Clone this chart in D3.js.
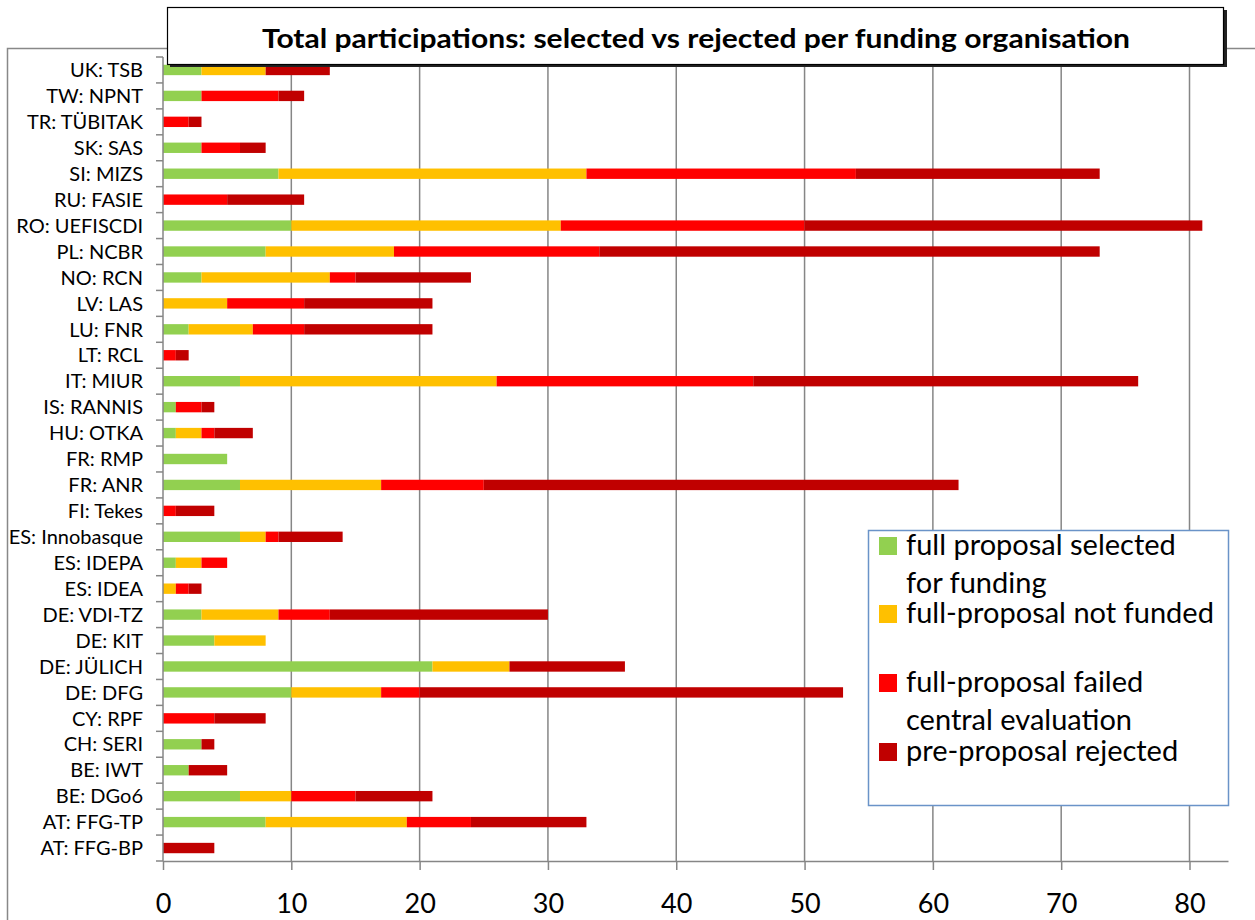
<!DOCTYPE html>
<html>
<head>
<meta charset="utf-8">
<script src="https://cdn.jsdelivr.net/npm/d3@7"></script>
<style>
  body { margin: 0; background: #fff; }
  svg text { font-family: Lato, "Open Sans", sans-serif; }
</style>
</head>
<body>
<div id="chart"></div>
<script>
// categories, top to bottom as shown
var orgs = ["UK: TSB", "TW: NPNT", "TR: TÜBITAK", "SK: SAS", "SI: MIZS", "RU: FASIE", "RO: UEFISCDI",
  "PL: NCBR", "NO: RCN", "LV: LAS", "LU: FNR", "LT: RCL", "IT: MIUR", "IS: RANNIS", "HU: OTKA",
  "FR: RMP", "FR: ANR", "FI: Tekes", "ES: Innobasque", "ES: IDEPA", "ES: IDEA", "DE: VDI-TZ",
  "DE: KIT", "DE: JÜLICH", "DE: DFG", "CY: RPF", "CH: SERI", "BE: IWT", "BE: DGo6",
  "AT: FFG-TP", "AT: FFG-BP"];

var selected      = [3, 3, 0, 3, 9, 0, 10, 8, 3, 0, 2, 0, 6, 1, 1, 5, 6, 0, 6, 1, 0, 3, 4, 21, 10, 0, 3, 2, 6, 8, 0];
var notFunded     = [5, 0, 0, 0, 24, 0, 21, 10, 10, 5, 5, 0, 20, 0, 2, 0, 11, 0, 2, 2, 1, 6, 4, 6, 7, 0, 0, 0, 4, 11, 0];
var failedCentral = [0, 6, 2, 3, 21, 5, 19, 16, 2, 6, 4, 1, 20, 2, 1, 0, 8, 1, 1, 2, 1, 4, 0, 0, 3, 4, 0, 0, 5, 5, 0];
var preRejected   = [5, 2, 1, 2, 19, 6, 31, 39, 9, 10, 10, 1, 30, 1, 3, 0, 37, 3, 5, 0, 1, 17, 0, 9, 33, 4, 1, 3, 6, 9, 4];

var xTicks = [0, 10, 20, 30, 40, 50, 60, 70, 80];
var seriesKeys = ["selected", "notFunded", "failedCentral", "preRejected"];
var seriesNames = [["full proposal selected", "for funding"], ["full-proposal not funded"],
  ["full-proposal failed", "central evaluation"], ["pre-proposal rejected"]];
var colors = ["#92D050", "#FFC000", "#FF0000", "#C00000"];

var W = 1255, H = 920;
var plot = { left: 163, right: 1228, top: 57, bottom: 861 };

var rows = orgs.map(function (o, i) {
  return { org: o, selected: selected[i], notFunded: notFunded[i],
    failedCentral: failedCentral[i], preRejected: preRejected[i] };
});

var svg = d3.select("#chart").append("svg")
  .attr("width", W).attr("height", H);

// outer chart frame
svg.append("rect")
  .attr("x", 7.5).attr("y", 48.5)
  .attr("width", W + 10).attr("height", H)
  .attr("fill", "#fff").attr("stroke", "#888").attr("stroke-width", 1.5);

var x = d3.scaleLinear().domain([0, 83]).range([plot.left, plot.right]);
var y = d3.scaleBand().domain(orgs).range([plot.top, plot.bottom]).paddingInner(0.6).paddingOuter(0.3);

// gridlines
svg.append("g")
  .selectAll("line")
  .data(xTicks.slice(1))
  .join("line")
  .attr("x1", d => x(d)).attr("x2", d => x(d))
  .attr("y1", 49).attr("y2", plot.bottom)
  .attr("stroke", "#868686").attr("stroke-width", 1.5);

// stacked bars
var stack = d3.stack().keys(seriesKeys)(rows);
svg.append("g")
  .selectAll("g")
  .data(stack)
  .join("g")
  .attr("fill", (d, i) => colors[i])
  .selectAll("rect")
  .data(d => d)
  .join("rect")
  .attr("x", d => x(d[0]))
  .attr("y", d => y(d.data.org))
  .attr("width", d => x(d[1]) - x(d[0]))
  .attr("height", y.bandwidth());

// x axis
var xAxis = svg.append("g")
  .attr("transform", `translate(0,${plot.bottom})`)
  .call(d3.axisBottom(x).tickValues(xTicks).tickSize(9).tickPadding(24).tickSizeOuter(0));
xAxis.select(".domain").attr("stroke", "#868686").attr("stroke-width", 1.5);
xAxis.selectAll(".tick line").attr("stroke", "#868686").attr("stroke-width", 1.5);
xAxis.selectAll("text")
  .attr("fill", "#000")
  .style("font-size", "27px")
  .style("font-family", "Lato, sans-serif");

// y axis (category boundaries as ticks)
var yAxisG = svg.append("g");
yAxisG.append("line")
  .attr("x1", plot.left).attr("x2", plot.left)
  .attr("y1", plot.top).attr("y2", plot.bottom)
  .attr("stroke", "#868686").attr("stroke-width", 1.5);
var step = (plot.bottom - plot.top) / orgs.length;
yAxisG.selectAll(".cattick")
  .data(d3.range(orgs.length + 1))
  .join("line")
  .attr("class", "cattick")
  .attr("x1", plot.left - 7).attr("x2", plot.left)
  .attr("y1", d => plot.top + d * step).attr("y2", d => plot.top + d * step)
  .attr("stroke", "#868686").attr("stroke-width", 1.5);
yAxisG.selectAll(".catlabel")
  .data(orgs)
  .join("text")
  .attr("class", "catlabel")
  .attr("x", 143)
  .attr("y", d => y(d) + y.bandwidth() / 2)
  .attr("dy", "0.36em")
  .attr("text-anchor", "end")
  .style("font-size", "20px")
  .text(d => d);

// title box
svg.append("rect")
  .attr("x", 170).attr("y", 10)
  .attr("width", 1057).attr("height", 57)
  .attr("fill", "#222");
svg.append("rect")
  .attr("x", 167.5).attr("y", 7.5)
  .attr("width", 1056).attr("height", 57)
  .attr("fill", "#fff").attr("stroke", "#000").attr("stroke-width", 1.2);
svg.append("text")
  .attr("x", 262).attr("y", 48)
  .attr("textLength", 868)
  .attr("lengthAdjust", "spacingAndGlyphs")
  .style("font-size", "27px")
  .style("font-weight", "bold")
  .text("Total participations: selected vs rejected per funding organisation");

// legend
var legend = svg.append("g");
legend.append("rect")
  .attr("x", 868.5).attr("y", 530.5)
  .attr("width", 360).attr("height", 275)
  .attr("fill", "#fff").attr("stroke", "#6A93C8").attr("stroke-width", 1.5);
var legendBase = [555, 623, 692, 761];
seriesNames.forEach(function (lines, i) {
  legend.append("rect")
    .attr("x", 879).attr("y", legendBase[i] - 18)
    .attr("width", 18).attr("height", 18)
    .attr("fill", colors[i]);
  lines.forEach(function (t, j) {
    legend.append("text")
      .attr("x", 906).attr("y", legendBase[i] + j * 38)
      .style("font-size", "29px")
      .text(t);
  });
});
</script>
</body>
</html>
